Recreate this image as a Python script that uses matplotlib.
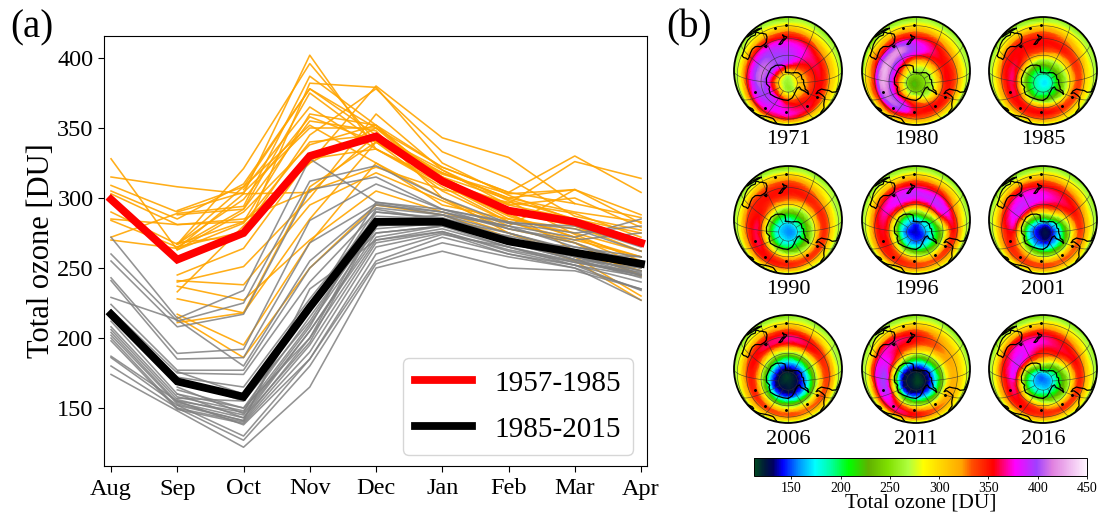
import numpy as np
import matplotlib

matplotlib.use("Agg")
import matplotlib.pyplot as plt
import matplotlib.tri as mtri
from matplotlib.colors import LinearSegmentedColormap, Normalize
from matplotlib.patches import Circle

plt.rcParams["font.family"] = ["Liberation Serif", "DejaVu Serif"]

W, H = 1099, 515
nan = float("nan")
MONTHS = ["Aug", "Sep", "Oct", "Nov", "Dec", "Jan", "Feb", "Mar", "Apr"]
MEAN_EARLY = [299, 256, 275, 330, 344, 312, 291, 283, 268]
MEAN_LATE = [217, 169, 158, 222, 283, 283, 269, 261, 253]

# single years, 1957-1985
EARLY_YEARS = [
    [328, 263, 290, 338, 352, 322, 304, 296, 286],
    [315, 308, 303, 304, 345, 318, 300, 290, 283],
    [309, 290, 304, 350, 350, 315, 299, 285, 275],
    [305, 285, 310, 378, 345, 320, 295, 300, 279],
    [303, 281, 285, 305, 322, 306, 297, 289, 272],
    [290, 267, 321, 396, 340, 318, 300, 306, 288],
    [285, 281, 283, 325, 380, 343, 329, 296, nan],
    [284, 265, 276, 345, 378, 333, 314, 287, 277],
    [272, 289, 294, 387, 352, 312, 290, 282, 270],
    [270, 264, 303, 402, 335, 310, 288, 272, 258],
    [nan, 291, 308, 378, 350, 322, 304, 330, 304],
    [nan, 288, 292, 375, 340, 312, 296, 326, 314],
    [nan, 267, 299, 358, 340, 317, 303, 306, 282],
    [nan, 265, 292, 355, 348, 300, 280, 306, nan],
    [nan, 267, 308, 352, 325, 295, 285, 278, 268],
    [nan, 263, 282, 340, 345, 315, 290, 280, 262],
    [nan, 245, 264, 328, 335, 308, 283, 270, 258],
    [nan, 240, 251, 300, 360, 320, 298, 274, 255],
    [nan, 241, 238, 295, 318, 298, 278, 268, 250],
    [nan, 237, 227, 270, 305, 290, 275, 262, 245],
    [nan, 233, 280, 325, 350, 310, 287, 272, 252],
    [nan, 228, 218, 285, 340, 305, 283, 268, 244],
    [nan, 217, 195, 268, 325, 300, 275, 258, 230],
    [nan, 215, 186, 250, 295, 288, 272, 255, 227],
    [nan, 211, 218, 308, 340, 315, 290, 262, 248],
    [nan, 268, 273, 382, 379, 325, 302, 284, 268],
    [nan, 267, 283, 360, 352, 310, 285, 275, 262],
    [nan, nan, 306, 365, 335, 312, 295, 285, 270],
]
# single years, 1985-2015
LATE_YEARS = [
    [272, 214, 234, 328, 297, 290, 280, 272, 285],
    [260, 212, 225, 312, 323, 300, 282, 275, 280],
    [255, 208, 217, 306, 315, 292, 278, 270, 275],
    [243, 189, 192, 284, 310, 292, 282, 280, 265],
    [241, 185, 186, 268, 296, 288, 280, 265, 258],
    [229, 213, 180, 255, 295, 290, 278, 268, 252],
    [224, 177, 177, 250, 293, 288, 275, 262, 250],
    [220, 175, 174, 240, 290, 286, 272, 258, 248],
    [215, 172, 165, 228, 287, 285, 270, 258, 245],
    [212, 160, 150, 215, 280, 283, 270, 260, 246],
    [208, 158, 148, 210, 278, 282, 268, 256, 243],
    [206, 156, 145, 205, 275, 280, 265, 252, 244],
    [204, 154, 143, 205, 272, 280, 268, 256, 250],
    [202, 153, 141, 200, 270, 278, 265, 254, 247],
    [200, 150, 140, 195, 268, 276, 262, 252, 240],
    [198, 149, 139, 190, 265, 275, 260, 250, 235],
    [187, 155, 138, 185, 260, 274, 265, 255, 245],
    [186, 152, 130, 185, 255, 272, 260, 252, 234],
    [180, 150, 127, 180, 253, 268, 258, 250, 227],
    [174, 148, 122, 165, 250, 262, 250, 248, 235],
    [nan, 176, 160, 222, 297, 292, 283, 278, 262],
    [nan, 170, 155, 212, 283, 288, 270, 265, 255],
    [nan, 165, 146, 208, 290, 285, 275, 263, 252],
    [nan, 163, 150, 200, 285, 282, 270, 260, 258],
    [nan, 160, 143, 197, 282, 281, 268, 258, 248],
    [nan, 157, 155, 220, 292, 284, 272, 256, 245],
    [nan, 155, 147, 225, 275, 280, 273, 262, 250],
    [nan, 152, 141, 235, 270, 276, 263, 254, 245],
]

# maps: ozone at the pole, then rows at the lats below, columns at MAP_LONS
MAP_LONS = [0, 30, 60, 90, 120, 150, 180, 210, 240, 270, 300, 330]
MAP_LATS = [-80, -70, -60, -50, -40, -30]
YEARS = ["1971", "1980", "1985", "1990", "1996", "2001", "2006", "2011", "2016"]
CORE = [262, 225, 172, 158, 138, 128, 118, 115, 155]
OZONE = [
    [[272, 285, 300, 300, 300, 295, 285, 290, 295, 295, 285, 270],
     [340, 365, 372, 372, 385, 385, 372, 345, 330, 325, 325, 330],
     [368, 385, 398, 408, 410, 400, 395, 372, 355, 350, 350, 355],
     [375, 378, 385, 390, 395, 392, 385, 372, 358, 352, 350, 362],
     [345, 348, 348, 348, 356, 362, 362, 350, 330, 318, 318, 332],
     [300, 300, 296, 296, 308, 320, 328, 312, 298, 295, 292, 294]],
    [[245, 250, 255, 255, 258, 255, 250, 250, 250, 250, 245, 245],
     [320, 330, 335, 340, 345, 320, 295, 285, 285, 280, 280, 290],
     [352, 392, 395, 405, 400, 385, 365, 345, 340, 340, 335, 345],
     [352, 385, 410, 425, 425, 420, 390, 365, 352, 350, 348, 350],
     [325, 342, 355, 358, 365, 372, 362, 347, 330, 322, 320, 325],
     [298, 308, 315, 318, 322, 325, 325, 312, 295, 290, 288, 290]],
    [[190, 190, 192, 195, 192, 190, 190, 190, 190, 190, 190, 190],
     [245, 240, 250, 250, 250, 240, 235, 240, 240, 240, 235, 238],
     [335, 330, 340, 345, 340, 320, 310, 295, 295, 295, 300, 318],
     [352, 352, 355, 358, 358, 352, 350, 345, 340, 338, 340, 345],
     [328, 328, 330, 335, 347, 352, 352, 340, 325, 312, 312, 320],
     [295, 293, 296, 296, 310, 325, 328, 312, 292, 285, 285, 290]],
    [[172, 175, 175, 172, 172, 172, 172, 175, 175, 172, 172, 172],
     [220, 225, 235, 235, 235, 228, 225, 225, 225, 225, 222, 222],
     [300, 315, 335, 340, 330, 310, 300, 290, 290, 290, 285, 290],
     [345, 352, 358, 358, 352, 348, 345, 342, 342, 342, 340, 340],
     [333, 335, 337, 337, 344, 347, 350, 340, 328, 320, 320, 323],
     [295, 295, 296, 296, 310, 323, 328, 312, 291, 285, 285, 288]],
    [[150, 155, 155, 150, 155, 155, 150, 160, 165, 160, 150, 150],
     [205, 210, 225, 225, 220, 225, 235, 240, 215, 200, 195, 198],
     [290, 305, 325, 330, 330, 340, 335, 345, 330, 265, 260, 270],
     [335, 345, 352, 358, 372, 385, 388, 390, 380, 345, 335, 330],
     [330, 335, 337, 337, 352, 369, 370, 363, 342, 335, 330, 325],
     [297, 297, 298, 296, 313, 325, 332, 322, 304, 292, 292, 295]],
    [[138, 145, 148, 150, 155, 165, 165, 155, 148, 140, 138, 135],
     [190, 195, 210, 225, 250, 270, 280, 270, 220, 195, 185, 185],
     [275, 290, 305, 340, 365, 368, 360, 345, 310, 270, 260, 265],
     [330, 335, 345, 358, 380, 385, 378, 365, 352, 335, 325, 325],
     [330, 333, 335, 335, 354, 369, 360, 350, 335, 325, 323, 325],
     [295, 295, 296, 296, 313, 330, 330, 317, 298, 290, 290, 292]],
    [[125, 128, 125, 125, 125, 122, 122, 125, 128, 130, 128, 125],
     [165, 165, 170, 175, 178, 172, 170, 170, 172, 170, 165, 165],
     [255, 255, 270, 280, 275, 260, 255, 255, 255, 250, 245, 250],
     [325, 330, 340, 345, 345, 345, 345, 340, 330, 325, 320, 320],
     [325, 325, 330, 335, 347, 359, 365, 355, 340, 335, 330, 323],
     [290, 290, 296, 296, 310, 325, 332, 317, 298, 294, 294, 290]],
    [[125, 125, 125, 125, 125, 125, 122, 122, 125, 125, 125, 125],
     [180, 180, 190, 195, 190, 185, 180, 175, 170, 170, 170, 175],
     [280, 300, 345, 360, 340, 310, 280, 265, 255, 250, 255, 262],
     [345, 362, 385, 395, 380, 355, 340, 325, 315, 310, 315, 325],
     [343, 353, 357, 363, 370, 367, 355, 330, 315, 310, 315, 325],
     [297, 300, 300, 300, 318, 330, 328, 310, 296, 292, 292, 296]],
    [[175, 175, 170, 170, 168, 172, 180, 182, 175, 172, 172, 172],
     [230, 232, 235, 240, 255, 285, 290, 255, 230, 220, 218, 222],
     [310, 325, 340, 358, 372, 365, 345, 335, 300, 280, 275, 285],
     [345, 352, 358, 365, 378, 380, 370, 360, 352, 342, 338, 340],
     [330, 333, 335, 340, 357, 369, 365, 350, 335, 325, 323, 325],
     [295, 295, 296, 298, 316, 330, 332, 317, 296, 290, 290, 290]],
]
# the low latitudes look the same in every panel
ROW_15S = [268, 268, 268, 268, 272, 278, 280, 276, 270, 268, 268, 268]
ROW_15N = [265, 265, 262, 258, 255, 255, 255, 255, 258, 262, 265, 265]

CMAP_VALUES = [112, 123, 131, 141, 157, 174, 190, 208, 228, 248, 269, 284, 323, 333, 355, 377, 399, 415, 450]
CMAP_COLORS = ["#004a20", "#001a3a", "#000060", "#0000ff", "#0090ff", "#00ffff", "#00ffa0", "#00ff00",
               "#60b000", "#80e000", "#b0ff40", "#ffff00", "#ffa500", "#ff5000", "#ff0000", "#ff00ff",
               "#a040ff", "#e080e0", "#fff5ff"]

# coastlines as (lon, lat)
ANTARCTICA = [(0, -70), (15, -70), (30, -69.5), (40, -68.5), (55, -66.5), (70, -68), (75, -69.5), (85, -66.5),
              (100, -66), (115, -66.5), (130, -66), (145, -67), (160, -69.5), (170, -71.5), (169, -77), (165, -78),
              (180, -78.5), (200, -78.5), (210, -77), (225, -74.5), (240, -73.5), (255, -74.5), (260, -73),
              (275, -73), (285, -71), (292, -70), (295, -66), (302, -63.5), (300, -66), (298, -70), (298, -74),
              (290, -77), (300, -78.5), (315, -78), (325, -77), (335, -75), (345, -72.5), (355, -71), (360, -70)]
AUSTRALIA = [(114, -22), (113.5, -26), (115, -31), (115, -34.5), (118, -35), (124, -33), (129, -31.7), (134, -32.5),
             (137, -35), (140, -38), (144, -38.5), (147, -38.5), (150, -37), (153, -31), (153, -26), (149, -21),
             (146, -18), (145, -15), (142.5, -11), (141, -16), (136, -12), (130, -12), (125, -15), (121, -19),
             (114, -22)]
TASMANIA = [(145, -41), (148, -41), (148, -43), (146, -43.5), (145, -41)]
NZ_SOUTH = [(166.5, -46), (168, -46.7), (171, -45.5), (173, -43), (174, -41.5), (172.5, -40.7), (170, -43), (166.5, -46)]
NZ_NORTH = [(174.5, -41.5), (176, -41), (178.5, -38), (175, -36.5), (173, -34.5), (174.5, -38), (174.5, -41.5)]
NEW_GUINEA = [(131, -1), (138, -2), (146, -6), (150, -10), (143, -9), (138, -8), (133, -4), (131, -1)]
S_AMERICA = [(280, 0), (279, -5), (284, -14), (290, -18), (289.5, -30), (287, -37), (286, -45), (285, -50),
             (289, -54), (295, -55), (292, -52), (295, -45), (298, -39), (303, -37), (307, -34), (312, -26),
             (319, -22), (321, -15), (325, -8), (325, -5), (320, -3), (310, 0)]
AFRICA = [(10, 0), (12, -18), (15, -27), (18, -33), (20, -35), (26, -34), (32, -29), (35, -24), (40, -15), (40, -5), (45, 0)]
MADAGASCAR = [(44, -17), (49, -13), (50, -16), (47, -25), (44, -24), (44, -17)]
ISLANDS = [(70, -49), (323, -54), (301, -51.5), (178, -18), (165, -21), (3, -54), (38, -47)]
COASTS = [ANTARCTICA, AUSTRALIA, TASMANIA, NZ_SOUTH, NZ_NORTH, NEW_GUINEA, S_AMERICA, AFRICA, MADAGASCAR]

LAT0 = np.radians(-77.0)


def ortho(lon, lat):
    """Orthographic view, tipped 13 degrees from the pole towards lon 180."""
    lam = np.radians(np.asarray(lon, dtype=float)) - np.pi
    phi = np.radians(np.asarray(lat, dtype=float))
    x = np.cos(phi) * np.sin(lam)
    y = np.cos(LAT0) * np.sin(phi) - np.sin(LAT0) * np.cos(phi) * np.cos(lam)
    z = np.sin(LAT0) * np.sin(phi) + np.cos(LAT0) * np.cos(phi) * np.cos(lam)
    return x, y, z


def px_axes(fig, left, top, right, bottom):
    return fig.add_axes([left / W, 1 - bottom / H, (right - left) / W, (bottom - top) / H])


def draw_line(ax, lon, lat, **kw):
    x, y, z = ortho(lon, lat)
    x = np.where(z > 0, x, np.nan)
    return ax.plot(x, y, **kw)


def draw_map(fig, cx, cy, core, rows, cmap, norm):
    ax = px_axes(fig, cx - 57, cy - 57, cx + 57, cy + 57)
    ax.set_xlim(-57 / 54, 57 / 54)
    ax.set_ylim(-57 / 54, 57 / 54)
    ax.axis("off")

    # smooth the table on a flat plane around the pole, then project the result
    lons = np.radians(MAP_LONS)
    us, vs, vals = [0.0], [0.0], [core]
    for lat, row in zip(MAP_LATS + [-15, 15], rows + [ROW_15S, ROW_15N]):
        us.extend((lat + 90) * np.cos(lons))
        vs.extend((lat + 90) * np.sin(lons))
        vals.extend(row)
    tri = mtri.Triangulation(np.array(us), np.array(vs))
    fine, fine_vals = mtri.UniformTriRefiner(tri).refine_field(np.array(vals, dtype=float), subdiv=4)
    flat_lon = np.degrees(np.arctan2(fine.y, fine.x))
    flat_lat = np.hypot(fine.x, fine.y) - 90
    x, y, z = ortho(flat_lon, flat_lat)
    mesh_tri = mtri.Triangulation(x, y, fine.triangles)
    mesh_tri.set_mask((z[fine.triangles] < -0.15).any(axis=1))
    mesh = ax.tripcolor(mesh_tri, fine_vals, shading="gouraud", cmap=cmap, norm=norm, zorder=1)
    disc = Circle((0, 0), 1.0, transform=ax.transData, fc="none", ec="black", lw=1.3, zorder=6)
    ax.add_patch(disc)
    mesh.set_clip_path(disc)

    # graticule
    arc = np.linspace(0, 360, 181)
    for lat in (-80, -60, -40, -20):
        line, = draw_line(ax, arc, np.full(arc.shape, lat), color="#303030", lw=0.45, alpha=0.8, zorder=3)
        line.set_clip_path(disc)
    merid = np.linspace(-80, 40, 61)
    for lon in range(0, 360, 30):
        line, = draw_line(ax, np.full(merid.shape, lon), merid, color="#303030", lw=0.45, alpha=0.8, zorder=3)
        line.set_clip_path(disc)

    for coast in COASTS:
        lon, lat = zip(*coast)
        line, = draw_line(ax, lon, lat, color="black", lw=0.9, zorder=4)
        line.set_clip_path(disc)
    lon, lat = zip(*ISLANDS)
    draw_line(ax, lon, lat, color="black", ls="none", marker="o", ms=1.1, zorder=4)
    return mesh


fig = plt.figure(figsize=(W / 100, H / 100), dpi=100)

# (a) the line chart
ax = px_axes(fig, 104, 36, 647, 466)
xpos = np.arange(len(MONTHS))
for y in EARLY_YEARS:
    ax.plot(xpos, y, color="orange", lw=1.15, alpha=0.9, zorder=2)
for y in LATE_YEARS:
    ax.plot(xpos, y, color="gray", lw=1.15, alpha=0.85, zorder=3)
ax.plot(xpos, MEAN_EARLY, color="red", lw=5.6, label="1957-1985", zorder=4, solid_joinstyle="miter")
ax.plot(xpos, MEAN_LATE, color="black", lw=5.6, label="1985-2015", zorder=5, solid_joinstyle="miter")
ax.set_xlim(-0.106, 8.09)
ax.set_ylim(108.6, 415.7)
ax.set_xticks(xpos)
ax.set_xticklabels(MONTHS)
ax.set_yticks([150, 200, 250, 300, 350, 400])
ax.tick_params(labelsize=17.5, length=4, width=0.8)
ax.tick_params(axis="x", pad=5)
ax.set_ylabel("Total ozone [DU]", fontsize=22, labelpad=1)
ax.legend(loc="lower right", fontsize=21, bbox_to_anchor=(0.974, 0.026), borderaxespad=0, handlelength=1.95,
          handletextpad=0.75, labelspacing=0.67, borderpad=0.42)

fig.text(10 / W, 1 - 28 / H, "(a)", fontsize=28, va="center")
fig.text(666 / W, 1 - 28 / H, "(b)", fontsize=28, va="center")

# (b) the maps
cmap = LinearSegmentedColormap.from_list("ozone", [((v - 112) / (450 - 112), c) for v, c in zip(CMAP_VALUES, CMAP_COLORS)], N=512)
norm = Normalize(112, 450)
map_x = [788, 916, 1043]
map_y = [71, 220, 369]
label_y = [140, 290, 439]
mesh = None
for i, year in enumerate(YEARS):
    row, col = divmod(i, 3)
    mesh = draw_map(fig, map_x[col], map_y[row], CORE[i], OZONE[i], cmap, norm)
    fig.text(map_x[col] / W, 1 - label_y[row] / H, year, fontsize=16, ha="center", va="center")

cax = px_axes(fig, 754, 458, 1087, 476)
cbar = fig.colorbar(mesh, cax=cax, orientation="horizontal", ticks=[150, 200, 250, 300, 350, 400, 450])
cbar.ax.tick_params(labelsize=10, length=2.5, width=0.6, pad=1.5)
cbar.outline.set_linewidth(0.7)
cbar.set_label("Total ozone [DU]", fontsize=15.5, labelpad=-1)

fig.savefig("out.png", dpi=100)
